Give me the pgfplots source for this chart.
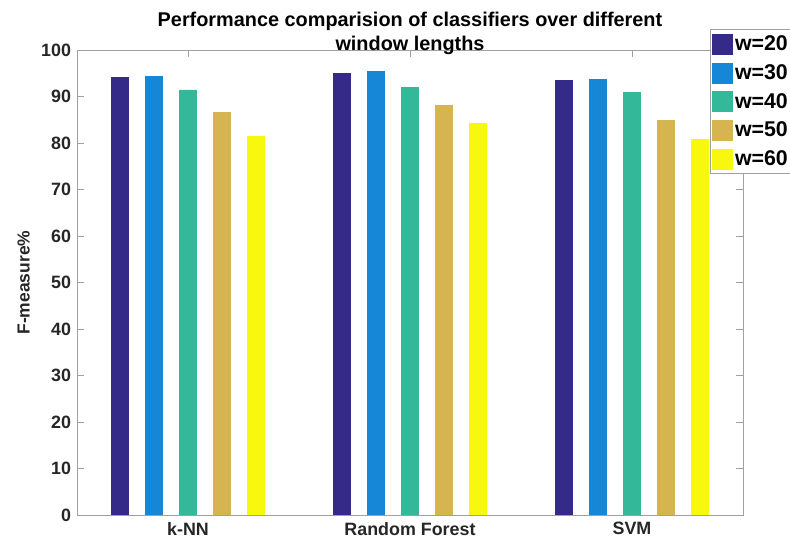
\documentclass[border=0pt]{standalone}
\usepackage{fontspec}
\setmainfont{Liberation Sans}
\usepackage{pgfplots}
\pgfplotsset{compat=1.18}

% parula-like series colours
\definecolor{cw20}{RGB}{53,42,135}
\definecolor{cw30}{RGB}{22,134,214}
\definecolor{cw40}{RGB}{52,184,154}
\definecolor{cw50}{RGB}{214,180,80}
\definecolor{cw60}{RGB}{248,248,14}
\definecolor{axgray}{RGB}{160,160,160}
\definecolor{txt}{RGB}{38,38,38}

\begin{document}
\begin{tikzpicture}
\begin{axis}[
  scale only axis,
  width=499.5pt, height=348.5pt,
  ybar=12.4pt, bar width=13.1pt,
  xmin=0.5, xmax=3.5, ymin=0, ymax=100,
  xtick={1,2,3},
  xticklabels={k-NN, Random Forest, SVM},
  ytick={0,10,...,100},
  tick align=inside, tick pos=both,
  major tick length=5pt,
  axis line style={axgray, line width=0.6pt},
  tick style={axgray, line width=0.6pt},
  /pgf/number format/assume math mode=true,
  tick label style={font=\bfseries\fontsize{13.4}{16}\selectfont, text=txt},
  xticklabel style={yshift=-2pt},
  yticklabel style={xshift=-1pt},
  ylabel={F-measure\%},
  ylabel style={at={(axis description cs:-0.08,0.5)}, anchor=center,
    font=\bfseries\fontsize{13.1}{16}\selectfont, text=txt},
  title={Performance comparision of classifiers over different\\window lengths},
  title style={at={(axis description cs:0.5,1)}, anchor=base, inner sep=0pt,
    yshift=-6.1pt, align=center, font=\bfseries\fontsize{14.9}{18}\selectfont,
    text=black},
  legend style={at={(axis description cs:0.9505,1.045)}, anchor=north west,
    draw=axgray, line width=0.5pt, inner xsep=1pt, inner ysep=3pt,
    font=\bfseries\fontsize{16}{18}\selectfont, row sep=6.1pt,
    nodes={inner xsep=1.5pt, inner ysep=0pt}},
  legend cell align=left,
  legend image code/.code={\fill[#1] (0pt,-7.5pt) rectangle (15.5pt,7.5pt);},
]
\addplot[fill=cw20, draw=cw20] coordinates {(1,94.2) (2,95.1) (3,93.6)};
\addplot[fill=cw30, draw=cw30] coordinates {(1,94.4) (2,95.4) (3,93.7)};
\addplot[fill=cw40, draw=cw40] coordinates {(1,91.5) (2,92.0) (3,91.0)};
\addplot[fill=cw50, draw=cw50] coordinates {(1,86.7) (2,88.1) (3,84.9)};
\addplot[fill=cw60, draw=cw60] coordinates {(1,81.4) (2,84.2) (3,80.8)};
\legend{w=20, w=30, w=40, w=50, w=60}
\end{axis}
\pgfresetboundingbox
\useasboundingbox (-57.75pt,-20.25pt) rectangle (534.75pt,386.25pt);
\end{tikzpicture}
\end{document}
